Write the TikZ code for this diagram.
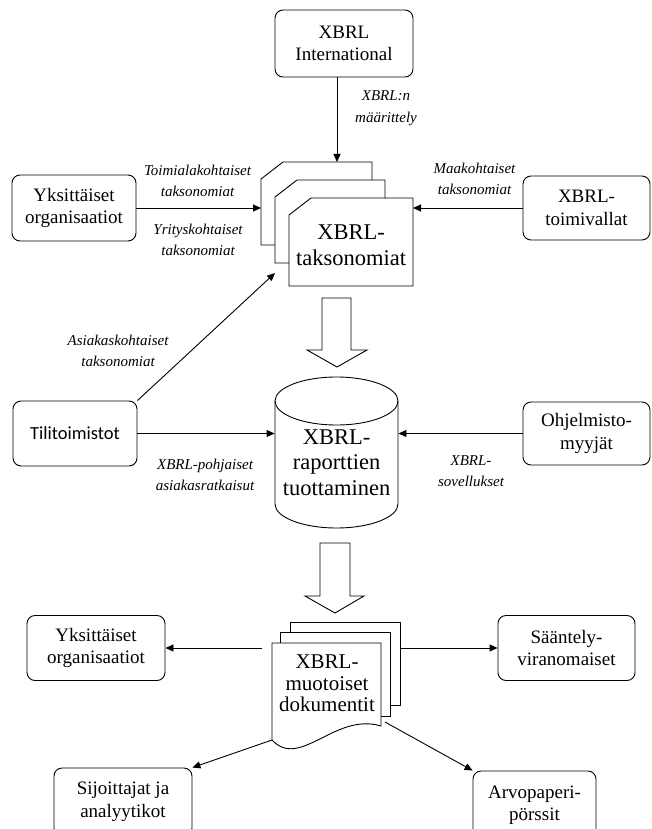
\documentclass[tikz,border=0pt]{standalone}
\usepackage{fontspec}
\setmainfont{Liberation Serif}
\newfontfamily\calibrifont{Carlito}
\usetikzlibrary{arrows.meta}

\tikzstyle{actor} = [draw, rounded corners=8pt, align=center, inner sep=2pt, font=\fontsize{19}{22.5}\selectfont]
\tikzstyle{flowlabel} = [align=center, inner sep=1pt, font=\fontsize{15}{21.5}\selectfont\itshape]
\tikzstyle{bigtext} = [align=center, inner sep=0pt, font=\fontsize{22.5}{25.5}\selectfont]
\tikzstyle{sheet} = [draw, fill=white]
\tikzstyle{bigarrow} = [draw, fill=white, line join=miter]
\tikzstyle{flow} = [-{Triangle[length=8pt,width=7pt]}]

\begin{document}
\begin{tikzpicture}[x=1pt,y=-1pt,line width=0.9pt]
		\useasboundingbox (0,0) rectangle (651,829);
		\clip (0,0) rectangle (651,829);

		% taxonomy sheets
		\foreach \x/\y/\w/\h in {261/162/111/83, 275/180/110/83, 289/198/124/88}
			\filldraw[sheet] (\x,{\y+17}) -- ({\x+22},\y) -- ({\x+\w},\y) -- ({\x+\w},{\y+\h}) -- (\x,{\y+\h}) -- cycle;
		\node[bigtext] (tax) at (351,245) {XBRL-\\taksonomiat};

		% database
		\filldraw[sheet] (275,401) -- (275,504) arc[start angle=180, end angle=0, x radius=61.5, y radius=24] -- (398,401);
		\draw (336.5,401) ellipse [x radius=61.5, y radius=24];
		\node[bigtext, minimum width=123pt] (db) at (336.5,462.5) {XBRL-\\raporttien\\tuottaminen};

		% document stack
		\filldraw[sheet] (290,622) rectangle (400,705);
		\filldraw[sheet] (280,632) rectangle (390,716);
		\filldraw[sheet] (272,643) -- (381,643) -- (381,726) .. controls (335,712) and (300,770) .. (272,740) -- cycle;
		\node[align=center, inner sep=0pt, font=\fontsize{21}{21.5}\selectfont] (docs) at (327,683.5) {XBRL-\\muotoiset\\dokumentit};

		% block arrows
		\filldraw[bigarrow] (322,298) -- (351,298) -- (351,350) -- (367,350) -- (337,367) -- (307,350) -- (322,350) -- cycle;
		\filldraw[bigarrow] (320,543) -- (350,543) -- (350,596) -- (364,596) -- (335,613) -- (305,596) -- (320,596) -- cycle;

		\node[actor, minimum width=138pt, minimum height=67pt] (intl) at (344,43.5) {XBRL\\International};
		\node[actor, minimum width=124pt, minimum height=66pt] (orgtop) at (74,208) {Yksittäiset\\organisaatiot};
		\node[actor, minimum width=127pt, minimum height=64pt] (toimi) at (586.5,208) {XBRL-\\toimivallat};
		\node[actor, minimum width=124pt, minimum height=65pt, font=\calibrifont\fontsize{18.5}{22}\selectfont] (tili) at (75,433.5) {Tilitoimistot};
		\node[actor, minimum width=127pt, minimum height=63pt] (ohj) at (586.5,433.5) {Ohjelmisto-\\myyjät};
		\node[actor, minimum width=138pt, minimum height=65pt] (orgbot) at (96,648) {Yksittäiset\\organisaatiot};
		\node[actor, minimum width=137pt, minimum height=65pt] (saant) at (566.5,648) {Sääntely-\\viranomaiset};
		\node[actor, minimum width=138pt, minimum height=68pt] (sijo) at (123,802) {Sijoittajat ja\\analyytikot};
		\node[actor, minimum width=123pt, minimum height=68pt] (arvo) at (534.5,805) {Arvopaperi-\\pörssit};

		\coordinate (taxtop) at (337,162);
		\coordinate (taxleft) at (261,208);
		\coordinate (taxright) at (413,208);
		\coordinate (taxcorner) at (275,273);
		\coordinate (docleft) at (262,648);
		\coordinate (docright) at (400,648);
		\coordinate (wavel) at (272,740);
		\coordinate (waver) at (385,722);

		\draw[flow] (taxtop |- intl.south) -- (taxtop);
		\draw[flow] (orgtop.east) -- (taxleft);
		\draw[flow] (toimi.west) -- (taxright);
		\draw[flow] (tili.north east) -- (taxcorner);
		\draw[flow] (tili.east) -- (db.west |- tili.east);
		\draw[flow] (ohj.west) -- (db.east |- ohj.west);
		\draw[flow] (docleft) -- (orgbot.east);
		\draw[flow] (docright) -- (saant.west);
		\draw[flow] (wavel) -- (sijo.north east);
		\draw[flow] (waver) -- (arvo.north west);

		\node[flowlabel] (lbldef) at (386,108) {XBRL:n\\määrittely};
		\node[flowlabel] (lblind) at (197.5,181) {Toimialakohtaiset\\taksonomiat};
		\node[flowlabel] (lblcomp) at (198,240) {Yrityskohtaiset\\taksonomiat};
		\node[flowlabel] (lblcountry) at (474.5,179) {Maakohtaiset\\taksonomiat};
		\node[flowlabel] (lblclient) at (118,351) {Asiakaskohtaiset\\taksonomiat};
		\node[flowlabel] (lblsol) at (205,475) {XBRL-pohjaiset\\asiakasratkaisut};
		\node[flowlabel] (lblapp) at (471,471) {XBRL-\\sovellukset};
\end{tikzpicture}
\end{document}
